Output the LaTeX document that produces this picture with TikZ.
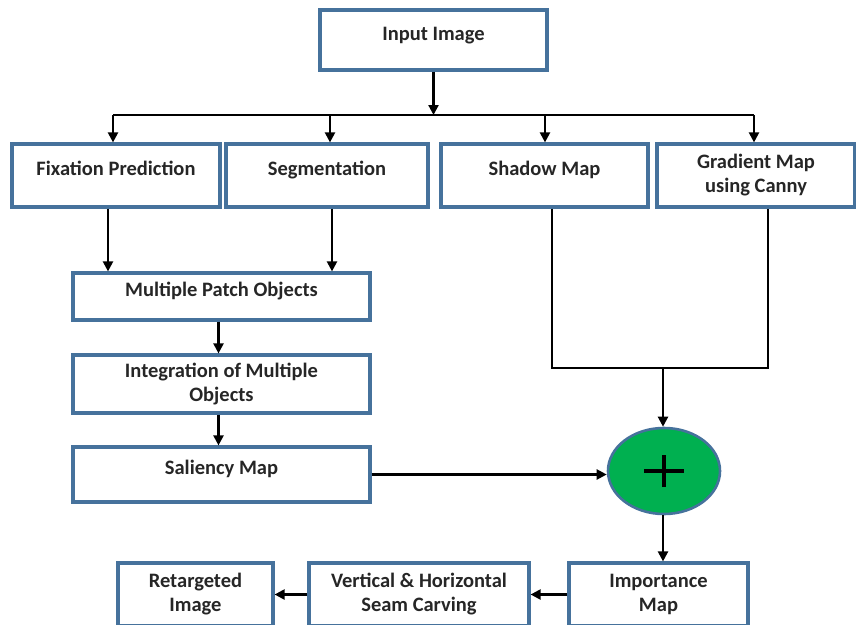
\documentclass[tikz,border=0pt]{standalone}
\usepackage{fontspec}
\setmainfont{Carlito}
\usetikzlibrary{arrows.meta,shapes.geometric}
\definecolor{boxblue}{RGB}{70,114,156}
\definecolor{sumgreen}{RGB}{0,176,80}
\begin{document}
\begin{tikzpicture}[x=1pt,y=-1pt,font=\fontsize{20.5}{24}\selectfont\bfseries,
  box/.style={draw=boxblue,line width=3.2pt,rectangle,inner sep=0pt,align=center,text=black!85},
  onebox/.style={box,text height=14pt,text depth=14pt},
  arr/.style={-{Triangle[length=10pt,width=10pt]},line width=2.2pt},
  wire/.style={line width=2.2pt}]
\useasboundingbox (0,0) rectangle (856,624);
\clip (0,0) rectangle (856,624);
% top row
\node[onebox,minimum width=227,minimum height=60] (inp) at (433.5,40) {Input Image};
\node[onebox,minimum width=208,minimum height=63] (fix) at (116,175.5) {Fixation Prediction};
\node[onebox,minimum width=202,minimum height=63] (seg) at (327,175.5) {Segmentation};
\node[onebox,minimum width=207,minimum height=63] (sha) at (544.5,175.5) {Shadow Map};
\node[box,minimum width=198,minimum height=63] (gra) at (756,175.5) {Gradient Map\\using Canny};
% left column
\node[onebox,minimum width=297,minimum height=47] (mp) at (221.5,296.5) {Multiple Patch Objects};
\node[box,minimum width=297,minimum height=58] (int) at (221.5,384) {Integration of Multiple\\Objects};
\node[onebox,minimum width=297,minimum height=55] (sal) at (221.5,474.5) {Saliency Map};
% sum
\node[ellipse,draw=boxblue,line width=2.6pt,fill=sumgreen,minimum width=112,minimum height=86,inner sep=0pt] (sum) at (664,471) {};
\draw[line width=3.2pt] ([xshift=-20]sum.center) -- ([xshift=20]sum.center);
\draw[line width=3.2pt] ([yshift=-16]sum.center) -- ([yshift=16]sum.center);
% bottom row
\node[box,minimum width=179,minimum height=63] (imp) at (658.5,594.5) {Importance\\Map};
\node[box,minimum width=220,minimum height=63] (vh) at (419,594.5) {Vertical \& Horizontal\\Seam Carving};
\node[box,minimum width=155,minimum height=63] (ret) at (195.5,594.5) {Retargeted\\Image};
% connectors
\coordinate (busL) at (113,115);
\coordinate (busR) at (754,115);
\draw[wire] (busL) -- (busR);
\draw[arr] (inp.south) -- (inp.south |- busL);
\foreach \n/\dx in {fix/-3,seg/3,sha/0.5,gra/-2}
  \draw[arr] ([xshift=\dx]\n.north |- busL) -- ([xshift=\dx]\n.north);
\draw[arr] ([xshift=-8]fix.south) -- ([xshift=-8]fix.south |- mp.north);
\draw[arr] ([xshift=5]seg.south) -- ([xshift=5]seg.south |- mp.north);
\draw[arr] ([xshift=-3]mp.south) -- ([xshift=-3]mp.south |- int.north);
\draw[arr] ([xshift=-3]int.south) -- ([xshift=-3]int.south |- sal.north);
\coordinate (jl) at (552,368);
\coordinate (jr) at (768,368);
\draw[wire] ([xshift=7.5]sha.south) -- (jl) -- (jr) -- ([xshift=12]gra.south);
\draw[arr] ([xshift=-1]sum.north |- jl) -- ([xshift=-1]sum.north);
\draw[arr] (sal.east) -- (sal.east -| sum.west);
\draw[arr] ([xshift=-1]sum.south) -- ([xshift=-1]sum.south |- imp.north);
\draw[arr] (imp.west) -- (vh.east);
\draw[arr] (vh.west) -- (ret.east);
\end{tikzpicture}
\end{document}
